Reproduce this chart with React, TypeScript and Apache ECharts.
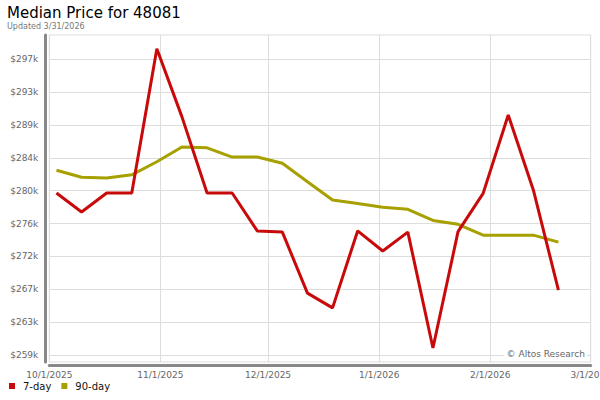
import React, { useEffect, useRef } from "react";
import * as echarts from "echarts";

const dates = [
  "2025-10-03", "2025-10-10", "2025-10-17", "2025-10-24", "2025-10-31",
  "2025-11-07", "2025-11-14", "2025-11-21", "2025-11-28", "2025-12-05",
  "2025-12-12", "2025-12-19", "2025-12-26", "2026-01-02", "2026-01-09",
  "2026-01-16", "2026-01-23", "2026-01-30", "2026-02-06", "2026-02-13",
  "2026-02-20",
];
const sevenDay = [
  279750, 277300, 279750, 279750, 298400, 289600, 279750, 279750, 274850, 274700,
  266800, 264900, 274850, 272250, 274700, 259700, 274750, 279700, 289850, 280150,
  267200,
];
const ninetyDay = [
  282700, 281800, 281700, 282100, 283800, 285700, 285600, 284400, 284400, 283600,
  281200, 278850, 278400, 277900, 277650, 276200, 275700, 274300, 274300, 274300,
  273400,
];
const yTicks = [258800, 263050, 267300, 271550, 275800, 280050, 284300, 288550, 292800, 297050];
const xTicks = ["2025-10-01", "2025-11-01", "2025-12-01", "2026-01-01", "2026-02-01", "2026-03-01"];

const FONT = "DejaVu Sans";

function toTime(s: string) {
  const [y, m, d] = s.split("-").map(Number);
  return Date.UTC(y, m - 1, d);
}

export default function App() {
  const ref = useRef<HTMLDivElement>(null);
  useEffect(() => {
    if (!ref.current) return;
    const chart = echarts.init(ref.current, null, { renderer: "svg" });
    const xTickTimes = xTicks.map(toTime);
    chart.setOption({
      animation: false,
      backgroundColor: "#fff",
      textStyle: { fontFamily: FONT },
      title: {
        text: "Median Price for 48081",
        subtext: "Updated 3/31/2026",
        left: 2,
        top: 0,
        itemGap: 2,
        textStyle: { fontFamily: FONT, fontSize: 15, fontWeight: "normal", color: "#000" },
        subtextStyle: { fontFamily: FONT, fontSize: 8, color: "#777" },
      },
      legend: {
        left: 4,
        top: 376,
        icon: "rect",
        itemWidth: 6,
        itemHeight: 6,
        itemGap: 10,
        textStyle: { fontFamily: FONT, fontSize: 10, color: "#111", padding: [0, 0, 0, 3] },
        data: ["7-day", "90-day"],
      },
      grid: {
        left: 49.3,
        right: 9.3,
        top: 35,
        bottom: 38,
        show: true,
        borderColor: "#ddd",
        borderWidth: 1,
        containLabel: false,
        outerBoundsMode: "none",
      },
      xAxis: {
        type: "value",
        min: xTickTimes[0],
        max: xTickTimes[xTickTimes.length - 1],
        offset: 3,
        axisLine: { show: true, onZero: false, lineStyle: { color: "#888", width: 3 } },
        axisTick: { show: false, customValues: xTickTimes },
        axisLabel: {
          customValues: xTickTimes,
          fontFamily: FONT,
          fontSize: 9,
          color: "#666",
          margin: 5,
          showMinLabel: true,
          showMaxLabel: true,
          hideOverlap: false,
          formatter: (v: number) => {
            const d = new Date(v);
            return `${d.getUTCMonth() + 1}/${d.getUTCDate()}/${d.getUTCFullYear()}`;
          },
        },
        splitLine: { show: true, lineStyle: { color: "#ddd", width: 1 } },
      },
      yAxis: {
        type: "value",
        min: 257895,
        max: 300190,
        offset: 4,
        axisLine: { show: true, onZero: false, lineStyle: { color: "#888", width: 3 } },
        axisTick: { show: false, customValues: yTicks },
        axisLabel: {
          customValues: yTicks,
          fontFamily: FONT,
          fontSize: 9,
          color: "#666",
          margin: 7,
          formatter: (v: number) => `$${Math.round(v / 1000)}k`,
        },
        splitLine: { show: true, lineStyle: { color: "#ddd", width: 1 } },
      },
      graphic: [
        {
          type: "text",
          right: 13,
          top: 348,
          z: 100,
          style: {
            text: "© Altos Research",
            font: `9px "${FONT}"`,
            fill: "#666",
            backgroundColor: "#fff",
            padding: [1, 2, 1, 3],
          },
        },
      ],
      series: [
        {
          name: "7-day",
          type: "line",
          data: dates.map((d, i) => [toTime(d), sevenDay[i]]),
          showSymbol: false,
          symbol: "none",
          clip: false,
          color: "#c80a0a",
          lineStyle: { color: "#c80a0a", width: 3 },
          z: 3,
        },
        {
          name: "90-day",
          type: "line",
          data: dates.map((d, i) => [toTime(d), ninetyDay[i]]),
          showSymbol: false,
          symbol: "none",
          clip: false,
          color: "#a6a000",
          lineStyle: { color: "#a6a000", width: 3 },
          z: 2,
        },
      ],
    });
    return () => chart.dispose();
  }, []);
  return (
    <div
      ref={ref}
      style={{ position: "fixed", left: 0, top: 0, width: 600, height: 400 }}
    />
  );
}
